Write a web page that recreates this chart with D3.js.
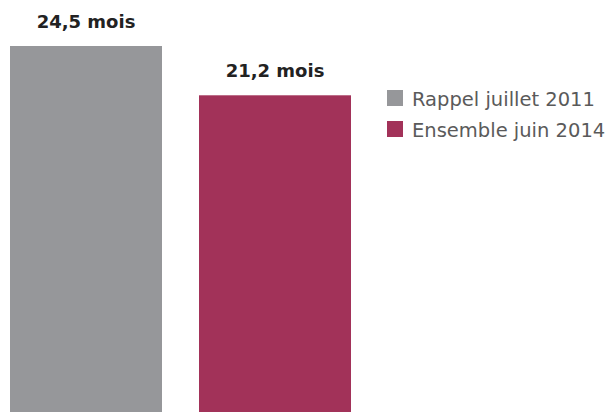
<!DOCTYPE html>
<html><head><meta charset="utf-8">
<script src="https://cdn.jsdelivr.net/npm/d3@7"></script>
<style>body{margin:0;background:#fff}svg{display:block}</style>
</head><body>
<script>
const categories = ["Rappel juillet 2011", "Ensemble juin 2014"];
const values = [24.5, 21.2];
const valueLabels = ["24,5 mois", "21,2 mois"];
const colors = ["#96979a", "#a23259"];

const W = 607, H = 412;
const svg = d3.select("body").append("svg").attr("width", W).attr("height", H);
const font = "'DejaVu Sans', 'Open Sans', sans-serif";

const x = d3.scaleBand().domain(categories).range([10, 351]).paddingInner(37 / 189).paddingOuter(0);
const y = d3.scaleLinear().domain([0, 24.5]).range([H, 46]);

svg.selectAll("rect.bar").data(categories).join("rect")
  .attr("class", "bar")
  .attr("x", d => x(d))
  .attr("width", x.bandwidth())
  .attr("y", (d, i) => y(values[i]))
  .attr("height", (d, i) => y(0) - y(values[i]))
  .attr("fill", (d, i) => colors[i]);

svg.selectAll("text.val").data(categories).join("text")
  .attr("class", "val")
  .attr("x", d => x(d) + x.bandwidth() / 2)
  .attr("y", (d, i) => y(values[i]) - 18)
  .attr("text-anchor", "middle")
  .style("font-family", font)
  .style("font-weight", "bold")
  .style("font-size", "18px")
  .attr("fill", "#222")
  .text((d, i) => valueLabels[i]);

const leg = svg.selectAll("g.leg").data(categories).join("g")
  .attr("class", "leg")
  .attr("transform", (d, i) => `translate(387,${90 + i * 31})`);
leg.append("rect").attr("width", 16).attr("height", 16).attr("fill", (d, i) => colors[i]);
leg.append("text").attr("x", 25).attr("y", 16)
  .style("font-family", font).style("font-size", "19.5px").attr("fill", "#5a5a5a")
  .text(d => d);
</script>
</body></html>
